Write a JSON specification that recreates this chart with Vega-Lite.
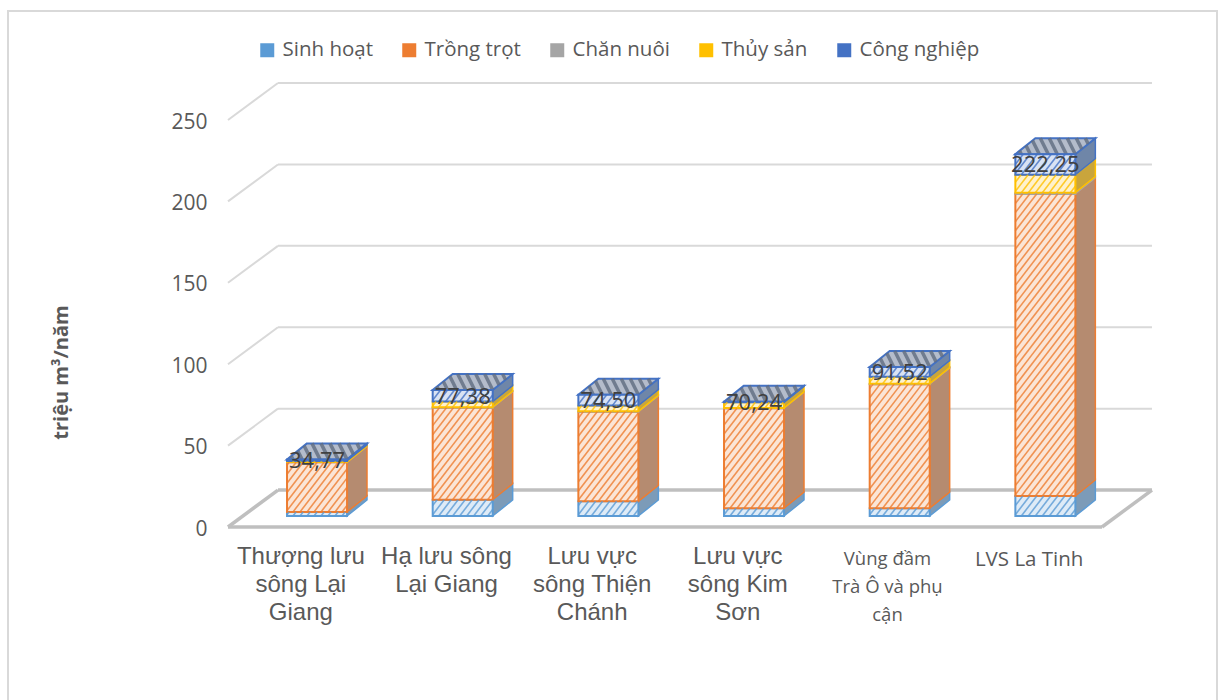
{
"$schema":"https://vega.github.io/schema/vega-lite/v6.json",
"width":874,"height":407,
"autosize":"none",
"padding":{"left":228,"top":120,"right":116,"bottom":173},
"background":"white",
"config":{"view":{"stroke":null},"font":"Open Sans"},
"datasets":{
"ticks":[{"v":0},{"v":50},{"v":100},{"v":150},{"v":200},{"v":250}],
"frame":[{"name":"frame"}],
"water":[
{"i":0,"category":"Thượng lưu\nsông Lại\nGiang","s":1,"series":"Sinh hoạt","value":2.5},
{"i":0,"category":"Thượng lưu\nsông Lại\nGiang","s":2,"series":"Trồng trọt","value":30.5},
{"i":0,"category":"Thượng lưu\nsông Lại\nGiang","s":3,"series":"Chăn nuôi","value":0.1},
{"i":0,"category":"Thượng lưu\nsông Lại\nGiang","s":4,"series":"Thủy sản","value":0.7},
{"i":0,"category":"Thượng lưu\nsông Lại\nGiang","s":5,"series":"Công nghiệp","value":0.97},
{"i":1,"category":"Hạ lưu sông\nLại Giang","s":1,"series":"Sinh hoạt","value":10},
{"i":1,"category":"Hạ lưu sông\nLại Giang","s":2,"series":"Trồng trọt","value":56.5},
{"i":1,"category":"Hạ lưu sông\nLại Giang","s":3,"series":"Chăn nuôi","value":0.3},
{"i":1,"category":"Hạ lưu sông\nLại Giang","s":4,"series":"Thủy sản","value":3.5},
{"i":1,"category":"Hạ lưu sông\nLại Giang","s":5,"series":"Công nghiệp","value":7.08},
{"i":2,"category":"Lưu vực\nsông Thiện\nChánh","s":1,"series":"Sinh hoạt","value":9},
{"i":2,"category":"Lưu vực\nsông Thiện\nChánh","s":2,"series":"Trồng trọt","value":55},
{"i":2,"category":"Lưu vực\nsông Thiện\nChánh","s":3,"series":"Chăn nuôi","value":0.3},
{"i":2,"category":"Lưu vực\nsông Thiện\nChánh","s":4,"series":"Thủy sản","value":3.5},
{"i":2,"category":"Lưu vực\nsông Thiện\nChánh","s":5,"series":"Công nghiệp","value":6.7},
{"i":3,"category":"Lưu vực\nsông Kim\nSơn","s":1,"series":"Sinh hoạt","value":4.8},
{"i":3,"category":"Lưu vực\nsông Kim\nSơn","s":2,"series":"Trồng trọt","value":61.4},
{"i":3,"category":"Lưu vực\nsông Kim\nSơn","s":3,"series":"Chăn nuôi","value":0.2},
{"i":3,"category":"Lưu vực\nsông Kim\nSơn","s":4,"series":"Thủy sản","value":3.4},
{"i":3,"category":"Lưu vực\nsông Kim\nSơn","s":5,"series":"Công nghiệp","value":0.44},
{"i":4,"category":"Vùng đầm\nTrà Ô và phụ\ncận","s":1,"series":"Sinh hoạt","value":4.8},
{"i":4,"category":"Vùng đầm\nTrà Ô và phụ\ncận","s":2,"series":"Trồng trọt","value":76.2},
{"i":4,"category":"Vùng đầm\nTrà Ô và phụ\ncận","s":3,"series":"Chăn nuôi","value":0.3},
{"i":4,"category":"Vùng đầm\nTrà Ô và phụ\ncận","s":4,"series":"Thủy sản","value":4.3},
{"i":4,"category":"Vùng đầm\nTrà Ô và phụ\ncận","s":5,"series":"Công nghiệp","value":5.92},
{"i":5,"category":"LVS La Tinh","s":1,"series":"Sinh hoạt","value":12.3},
{"i":5,"category":"LVS La Tinh","s":2,"series":"Trồng trọt","value":185.5},
{"i":5,"category":"LVS La Tinh","s":3,"series":"Chăn nuôi","value":0.8},
{"i":5,"category":"LVS La Tinh","s":4,"series":"Thủy sản","value":11},
{"i":5,"category":"LVS La Tinh","s":5,"series":"Công nghiệp","value":12.65}
]},
"resolve":{"scale":{"x":"independent","fill":"independent","color":"independent"},"axis":{"x":"independent","y":"independent"},"legend":{"color":"independent"}},
"layer":[
{"data":{"name":"frame"},"mark":{"type":"rect","fillOpacity":0,"stroke":"#D9D9D9","strokeWidth":2},
 "encoding":{"x":{"value":-220},"x2":{"value":989},"y":{"value":-109},"y2":{"value":600}}},

{"data":{"name":"water"},
 "mark":{"type":"square","opacity":0,"size":1},
 "encoding":{"x":{"field":"category","type":"nominal","sort":null,"scale":{"paddingInner":0.588,"paddingOuter":0.294},"axis":null},
 "y":{"field":"value","type":"quantitative","scale":{"domain":[0,250]},"axis":null},
 "color":{"field":"series","type":"nominal","scale":{"domain":["Sinh hoạt","Trồng trọt","Chăn nuôi","Thủy sản","Công nghiệp"],"range":["#5B9BD5","#ED7D31","#A5A5A5","#FFC000","#4472C4"]},
  "legend":{"title":null,"orient":"none","legendX":29,"legendY":-80,"direction":"horizontal","columns":5,"gridAlign":"none","columnPadding":26,"symbolType":"square","symbolSize":196,"symbolOpacity":1,"labelFont":"Open Sans","labelFontSize":20.5,"labelColor":"#595959","labelOffset":5}}}},

{"data":{"name":"ticks"},
 "transform":[{"calculate":"0","as":"x0"},{"calculate":"0.343","as":"x1"},{"calculate":"datum.v+22.7","as":"bv"}],
 "mark":{"type":"rule"},
 "encoding":{"x":{"field":"x0","type":"quantitative","scale":{"domain":[0,6]},"axis":null},"x2":{"field":"x1"},
 "y":{"field":"v","type":"quantitative","scale":{"domain":[0,250]},"axis":null},"y2":{"field":"bv"},
 "stroke":{"condition":{"test":"datum.v==0","value":"#BFBFBF"},"value":"#D9D9D9"},
 "strokeWidth":{"condition":{"test":"datum.v==0","value":3.5},"value":2}}},
{"data":{"name":"ticks"},
 "transform":[{"calculate":"0.343","as":"x0"},{"calculate":"6.343","as":"x1"},{"calculate":"datum.v+22.7","as":"bv"}],
 "mark":{"type":"rule"},
 "encoding":{"x":{"field":"x0","type":"quantitative","scale":{"domain":[0,6]},"axis":null},"x2":{"field":"x1"},
 "y":{"field":"bv","type":"quantitative","scale":{"domain":[0,250]},"axis":null},
 "stroke":{"condition":{"test":"datum.v==0","value":"#BFBFBF"},"value":"#D9D9D9"},
 "strokeWidth":{"condition":{"test":"datum.v==0","value":3.5},"value":2}}},
{"data":{"name":"ticks"},
 "transform":[{"filter":"datum.v==0"},{"calculate":"0","as":"x0"},{"calculate":"6","as":"x1"}],
 "mark":{"type":"rule","color":"#BFBFBF","strokeWidth":3.5},
 "encoding":{"x":{"field":"x0","type":"quantitative","scale":{"domain":[0,6]},"axis":null},"x2":{"field":"x1"},
 "y":{"field":"v","type":"quantitative","scale":{"domain":[0,250]},"axis":null}}},
{"data":{"name":"ticks"},
 "transform":[{"filter":"datum.v==0"},{"calculate":"6","as":"x0"},{"calculate":"6.343","as":"x1"},{"calculate":"datum.v+22.7","as":"bv"}],
 "mark":{"type":"rule","color":"#BFBFBF","strokeWidth":3.5},
 "encoding":{"x":{"field":"x0","type":"quantitative","scale":{"domain":[0,6]},"axis":null},"x2":{"field":"x1"},
 "y":{"field":"v","type":"quantitative","scale":{"domain":[0,250]},"axis":null},"y2":{"field":"bv"}}},

{"data":{"name":"water"},
 "transform":[{"stack":"value","groupby":["category"],"sort":[{"field":"s","order":"ascending"}],"as":["lo","hi"]},
 {"calculate":"[0,1]","as":"d"},{"flatten":["d"]},
 {"calculate":"datum.i+0.817+datum.d*0.1373","as":"sx"},
 {"calculate":"datum.lo+6.76+datum.d*9.83","as":"sy"},
 {"calculate":"datum.hi+6.76+datum.d*9.83","as":"sy2"}],
 "mark":{"type":"area","orient":"vertical","strokeWidth":1.5},
 "encoding":{"x":{"field":"sx","type":"quantitative","scale":{"domain":[0,6]},"axis":null},
 "y":{"field":"sy","type":"quantitative","scale":{"domain":[0,250]},"axis":null,"stack":null},"y2":{"field":"sy2"},
 "detail":[{"field":"i"},{"field":"s"}],
 "fill":{"field":"series","type":"nominal","legend":null,"scale":{"domain":["Sinh hoạt","Trồng trọt","Chăn nuôi","Thủy sản","Công nghiệp"],"range":["#7C9BB8","#B58B70","#9A9A9A","#C9A53C","#6F86A8"]}},
 "stroke":{"field":"series","type":"nominal","legend":null,"scale":{"domain":["Sinh hoạt","Trồng trọt","Chăn nuôi","Thủy sản","Công nghiệp"],"range":["#5B9BD5","#ED7D31","#A5A5A5","#FFC000","#4472C4"]}}}},

{"data":{"name":"water"},
 "transform":[{"stack":"value","groupby":["category"],"sort":[{"field":"s","order":"ascending"}],"as":["lo","hi"]},
 {"filter":"datum.s==5"},
 {"calculate":"[0,1]","as":"d"},{"flatten":["d"]},
 {"calculate":"datum.i+0.405+datum.d*0.1373","as":"tx"},
 {"calculate":"datum.i+0.817+datum.d*0.1373","as":"tx2"},
 {"calculate":"datum.hi+6.76+datum.d*9.83","as":"ty"}],
 "mark":{"type":"area","orient":"horizontal","fill":"#B4BCCB","stroke":"#4472C4","strokeWidth":2},
 "encoding":{"x":{"field":"tx","type":"quantitative","scale":{"domain":[0,6]},"axis":null},"x2":{"field":"tx2"},
 "y":{"field":"ty","type":"quantitative","scale":{"domain":[0,250]},"axis":null},
 "detail":{"field":"i"}}},

{"data":{"name":"water"},
 "transform":[{"stack":"value","groupby":["category"],"sort":[{"field":"s","order":"ascending"}],"as":["lo","hi"]},
 {"filter":"datum.s==5"},
 {"calculate":"[6,15,24,33,42,51,60,69,78]","as":"f"},{"flatten":["f"]},
 {"calculate":"max(0,(datum.f-60)/28)","as":"q0"},
 {"calculate":"min(1,datum.f/28)","as":"q1"},
 {"calculate":"datum.i+0.405+(datum.f-8*datum.q0)/145.67","as":"ax"},
 {"calculate":"datum.i+0.405+(datum.f-8*datum.q1)/145.67","as":"bx"},
 {"calculate":"datum.hi+6.76+9.83*datum.q0","as":"ay"},
 {"calculate":"datum.hi+6.76+9.83*datum.q1","as":"by"}],
 "mark":{"type":"rule","color":"#5F6C80","strokeWidth":3.5,"opacity":0.8},
 "encoding":{"x":{"field":"ax","type":"quantitative","scale":{"domain":[0,6]},"axis":null},"x2":{"field":"bx"},
 "y":{"field":"ay","type":"quantitative","scale":{"domain":[0,250]},"axis":null},"y2":{"field":"by"}}},

{"data":{"name":"water"},
 "mark":{"type":"bar","xOffset":16.2,"x2Offset":16.2,"yOffset":-11,"y2Offset":-11,"strokeWidth":2},
 "encoding":{
 "x":{"field":"category","type":"nominal","sort":null,"scale":{"paddingInner":0.588,"paddingOuter":0.294},
  "axis":{"title":null,"domain":false,"ticks":false,"labelAngle":0,"labelLimit":0,"labelOverlap":false,"labelBound":false,"labelColor":"#595959","labelLineHeight":28,"labelBaseline":"top",
  "labelExpr":"split(datum.label,'\\n')",
  "labelOffset":{"condition":{"test":"indexof(datum.label,'Vùng')==0","value":4},"value":0},
  "labelPadding":{"condition":{"test":"indexof(datum.label,'Vùng')==0 || indexof(datum.label,'LVS')==0","value":22},"value":17},
  "labelFont":{"condition":{"test":"indexof(datum.label,'Vùng')==0 || indexof(datum.label,'LVS')==0","value":"Open Sans"},"value":"Liberation Sans"},
  "labelFontSize":{"condition":[{"test":"indexof(datum.label,'Vùng')==0","value":18.5},{"test":"indexof(datum.label,'LVS')==0","value":20.5}],"value":24}}},
 "y":{"field":"value","type":"quantitative","stack":"zero","scale":{"domain":[0,250]},
  "axis":{"title":"triệu m³/năm","domain":false,"ticks":false,"grid":false,"values":[0,50,100,150,200,250],"labelPadding":21,"labelOffset":2,"labelFont":"Open Sans","labelFontSize":21,"labelColor":"#595959","titleFont":"Open Sans","titleFontSize":20,"titleFontWeight":"bold","titleColor":"#595959","titleX":-157,"titleY":252,"titleAnchor":"middle"}},
 "order":{"field":"s"},
 "fill":{"field":"series","type":"nominal","legend":null,"scale":{"domain":["Sinh hoạt","Trồng trọt","Chăn nuôi","Thủy sản","Công nghiệp"],"range":["#DEEBF7","#FBE5D6","#EDEDED","#FFF2CC","#D9E2F3"]}},
 "stroke":{"field":"series","type":"nominal","legend":null,"scale":{"domain":["Sinh hoạt","Trồng trọt","Chăn nuôi","Thủy sản","Công nghiệp"],"range":["#5B9BD5","#ED7D31","#A5A5A5","#FFC000","#4472C4"]}}}},

{"data":{"name":"water"},
 "transform":[{"stack":"value","groupby":["category"],"sort":[{"field":"s","order":"ascending"}],"as":["lo","hi"]},
 {"calculate":"(datum.hi-datum.lo)*1.628","as":"H"},
 {"calculate":"sequence(0,ceil((60+datum.H/1.3)/7)+1)","as":"k"},{"flatten":["k"]},
 {"calculate":"62-7*datum.k","as":"c"},
 {"calculate":"max(0,-1.3*datum.c)","as":"ys"},
 {"calculate":"min(datum.H,1.3*(60-datum.c))","as":"ye"},
 {"filter":"datum.ye>datum.ys"},
 {"calculate":"datum.i+0.405+(datum.c+datum.ys/1.3)/145.67","as":"hx"},
 {"calculate":"datum.i+0.405+(datum.c+datum.ye/1.3)/145.67","as":"hx2"},
 {"calculate":"datum.lo+6.76+datum.ys/1.628","as":"hy"},
 {"calculate":"datum.lo+6.76+datum.ye/1.628","as":"hy2"}],
 "mark":{"type":"rule","strokeWidth":1.6,"opacity":0.8},
 "encoding":{"x":{"field":"hx","type":"quantitative","scale":{"domain":[0,6]},"axis":null},"x2":{"field":"hx2"},
 "y":{"field":"hy","type":"quantitative","scale":{"domain":[0,250]},"axis":null},"y2":{"field":"hy2"},
 "detail":{"field":"k"},
 "stroke":{"field":"series","type":"nominal","legend":null,"scale":{"domain":["Sinh hoạt","Trồng trọt","Chăn nuôi","Thủy sản","Công nghiệp"],"range":["#5B9BD5","#ED7D31","#A5A5A5","#FFC000","#4472C4"]}}}},

{"data":{"name":"water"},
 "transform":[{"stack":"value","groupby":["category"],"sort":[{"field":"s","order":"ascending"}],"as":["lo","hi"]},
 {"filter":"datum.s==5"},
 {"calculate":"(datum.lo+datum.hi)/2","as":"mid"},
 {"calculate":"replace(format(datum.hi,'.2f'),'.',',')","as":"label"}],
 "mark":{"type":"text","font":"Open Sans","fontSize":22,"color":"#404040","xOffset":16.2,"yOffset":-10},
 "encoding":{"x":{"field":"category","type":"nominal","sort":null,"scale":{"paddingInner":0.588,"paddingOuter":0.294},"axis":null},
 "y":{"field":"mid","type":"quantitative","scale":{"domain":[0,250]},"axis":null},
 "text":{"field":"label"}}}
]}
